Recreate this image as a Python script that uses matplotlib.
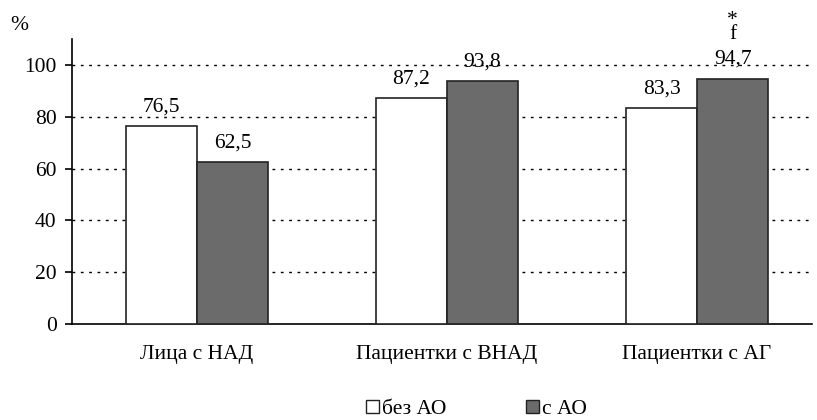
import numpy as np
import matplotlib.pyplot as plt
from matplotlib.patches import Patch

plt.rcParams['font.family'] = ['Liberation Serif', 'DejaVu Serif']
plt.rcParams['font.size'] = 15.5

groups = ['Лица с НАД', 'Пациентки с ВНАД', 'Пациентки с АГ']
without_ao = [76.5, 87.2, 83.3]
with_ao = [62.5, 93.8, 94.7]
series_names = ['без АО', 'с АО']
yticks = [0, 20, 40, 60, 80, 100]

fig = plt.figure(figsize=(8.17, 4.2), dpi=100)
ax = fig.add_axes([0.088, 0.2286, 0.906, 0.6786])

x = np.arange(len(groups))
w = 0.284
b1 = ax.bar(x - w / 2, without_ao, w, color='white', edgecolor='#222222', linewidth=1.2, zorder=3)
b2 = ax.bar(x + w / 2, with_ao, w, color='#6b6b6b', edgecolor='#222222', linewidth=1.2, zorder=3)

def fmt(v):
    return ('%.1f' % v).replace('.', ',')

for bars, vals in ((b1, without_ao), (b2, with_ao)):
    for r, v in zip(bars, vals):
        ax.annotate(fmt(v), (r.get_x() + r.get_width() / 2, v), xytext=(0, 7),
                    textcoords='offset points', ha='center', va='bottom')

# significance marks over the last dark bar
r = b2[2]
cx = r.get_x() + r.get_width() / 2
ax.annotate('*\nf', (cx, with_ao[2]), xytext=(0, 25),
            textcoords='offset points', ha='center', va='bottom',
            multialignment='center', linespacing=0.62)

ax.set_xlim(-0.5, 2.46)
ax.set_ylim(0, 110)
ax.set_yticks(yticks)
ax.set_xticks(x)
ax.set_xticklabels(groups)
ax.tick_params(axis='x', length=0, pad=15)
ax.tick_params(axis='y', direction='out', length=5, width=1.2, pad=6)

for yv in yticks[1:]:
    ax.axhline(yv, color='black', linestyle=(0, (2, 4)), linewidth=1, zorder=1)

for s in ('top', 'right'):
    ax.spines[s].set_visible(False)
ax.spines['left'].set_linewidth(1.2)
ax.spines['bottom'].set_linewidth(1.2)

fig.text(0.012, 0.94, '%', ha='left', va='center')

handles = [Patch(facecolor='white', edgecolor='#222222'),
           Patch(facecolor='#6b6b6b', edgecolor='#222222')]
fig.legend(handles, series_names, loc='center', bbox_to_anchor=(0.583, 0.025), ncol=2,
           frameon=False, handlelength=0.6, handleheight=0.6, handletextpad=0.15,
           columnspacing=3.7)

fig.savefig('out.png', dpi=100)
